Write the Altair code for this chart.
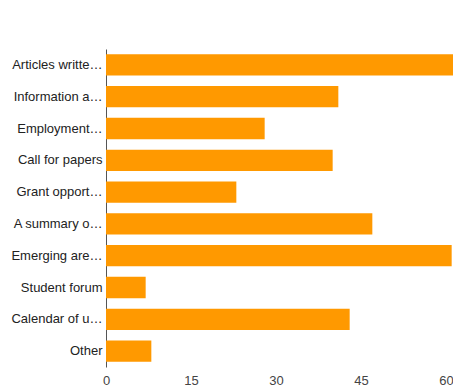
import altair as alt
import pandas as pd

categories = [
    "Articles writte…",
    "Information a…",
    "Employment…",
    "Call for papers",
    "Grant opport…",
    "A summary o…",
    "Emerging are…",
    "Student forum",
    "Calendar of u…",
    "Other",
]
counts = [63, 41, 28, 40, 23, 47, 61, 7, 43, 8]
x_ticks = [0, 15, 30, 45, 60]

df = pd.DataFrame({"category": categories, "count": counts})

chart = (
    alt.Chart(df)
    .mark_bar(color="#FF9900")
    .encode(
        y=alt.Y(
            "category:N",
            sort=categories,
            title=None,
            scale=alt.Scale(paddingInner=0.33, paddingOuter=0.165),
            axis=alt.Axis(
                ticks=False,
                domain=True,
                domainColor="#555555",
                labelFont="Liberation Sans",
                labelFontSize=13,
                labelColor="#222222",
                labelPadding=4,
                labelLimit=200,
            ),
        ),
        x=alt.X(
            "count:Q",
            title=None,
            scale=alt.Scale(domain=[0, 60], nice=False),
            axis=alt.Axis(
                values=x_ticks,
                ticks=False,
                domain=False,
                grid=False,
                labelFlush=False,
                labelFont="Liberation Sans",
                labelFontSize=13,
                labelColor="#444444",
                labelPadding=7,
            ),
        ),
    )
    .properties(
        width=340,
        height=318,
        autosize=alt.AutoSizeParams(type="none"),
        padding={"left": 106, "top": 49, "right": 7, "bottom": 21},
    )
    .configure_view(stroke=None)
)

chart.save("out.html", embed_options={"renderer": "svg", "actions": False})
